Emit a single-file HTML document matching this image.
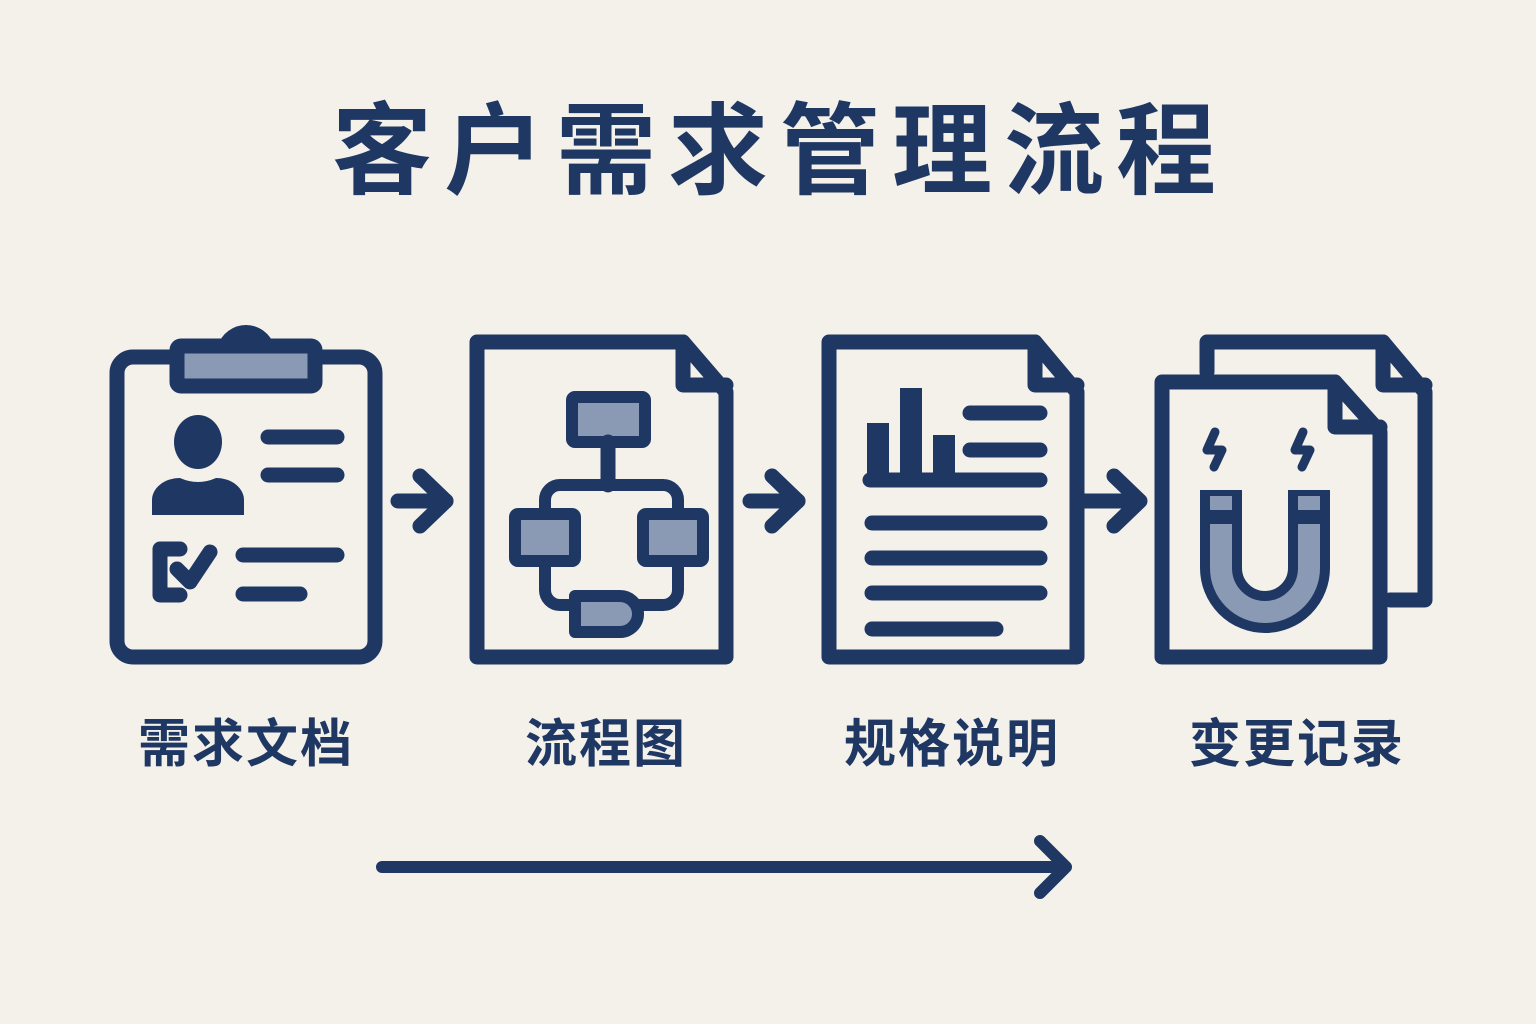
<!DOCTYPE html>
<html><head><meta charset="utf-8"><style>
body{margin:0;background:#f4f0ea;}
svg{display:block}
text{font-family:"Liberation Sans","Noto Sans CJK SC",sans-serif;font-weight:bold;fill:#1f3763}
</style></head><body>
<svg width="1536" height="1024" viewBox="0 0 1536 1024">
<rect width="1536" height="1024" fill="#f4f0ea"/>
<text x="780" y="186" font-size="100" text-anchor="middle" letter-spacing="12">客户需求管理流程</text>
<g fill="none" stroke="#1f3763" stroke-width="15" stroke-linecap="round" stroke-linejoin="round">
<!-- clipboard -->
<rect x="117" y="357" width="258" height="300" rx="16"/>
<path d="M225 348 a22 22 0 0 1 42 0 Z" fill="#8a9ab5"/>
<rect x="177" y="346" width="138" height="40" rx="4" fill="#8a9ab5"/>
<line x1="268" y1="437" x2="337" y2="437"/>
<line x1="268" y1="475" x2="337" y2="475"/>
<line x1="243" y1="555" x2="337" y2="555"/>
<line x1="243" y1="594" x2="300" y2="594"/>
<path d="M180 549 H160 V595 H180"/>
<path d="M177 569 L190 582 L210 552"/>
<!-- arrow1 -->
<line x1="398" y1="501" x2="446" y2="501"/>
<path d="M420 476 L446 501 L420 526"/>
<!-- doc2 -->
<path d="M477 342 H683 L726 392 V657 H477 Z"/>
<path d="M683 342 V385 H726"/>
<rect x="572" y="397" width="73" height="45" rx="3" fill="#8a9ab5" stroke-width="12"/>
<line x1="608" y1="442" x2="608" y2="485"/>
<path d="M545 570 V500 a15 15 0 0 1 15-15 H663 a15 15 0 0 1 15 15 V570" stroke-width="12"/>
<path d="M545 560 V590 a15 15 0 0 0 15 15 H580 M678 560 V590 a15 15 0 0 1 -15 15 H640" stroke-width="12"/>
<rect x="515" y="514" width="60" height="47" rx="3" fill="#8a9ab5" stroke-width="12"/>
<rect x="643" y="514" width="60" height="47" rx="3" fill="#8a9ab5" stroke-width="12"/>
<path d="M575 596 H620 a18 18 0 0 1 0 36 H575 Z" fill="#8a9ab5" stroke-width="12"/>
<!-- arrow2 -->
<line x1="750" y1="501" x2="798" y2="501"/>
<path d="M772 476 L798 501 L772 526"/>
<!-- doc3 -->
<path d="M829 342 H1035 L1077 392 V657 H829 Z"/>
<path d="M1035 342 V385 H1077"/>
<g fill="#1f3763" stroke="none">
<rect x="867" y="423" width="22" height="57"/>
<rect x="900" y="388" width="22" height="92"/>
<rect x="933" y="435" width="22" height="45"/>
</g>
<line x1="970" y1="413" x2="1040" y2="413"/>
<line x1="970" y1="450" x2="1040" y2="450"/>
<line x1="870" y1="480" x2="1040" y2="480"/>
<line x1="872" y1="523" x2="1040" y2="523"/>
<line x1="872" y1="558" x2="1040" y2="558"/>
<line x1="872" y1="593" x2="1040" y2="593"/>
<line x1="872" y1="629" x2="996" y2="629"/>
<!-- arrow3 -->
<line x1="1084" y1="501" x2="1138" y2="501"/>
<path d="M1114 476 L1140 501 L1114 526"/>
<!-- doc4 back -->
<path d="M1207 372 V342 H1383 L1425 392 V600 H1390"/>
<path d="M1383 342 V385 H1425"/>
<!-- front -->
<path d="M1162 382 H1335 L1380 432 V657 H1162 Z" fill="#f4f0ea"/>
<path d="M1335 382 V427 H1380"/>
<path d="M1215 432 L1207 450 L1222 450 L1214 467" stroke-width="9"/>
<path d="M1303 432 L1295 450 L1310 450 L1302 467" stroke-width="9"/>
</g>
<!-- person -->
<g fill="#1f3763">
<ellipse cx="198" cy="442" rx="24" ry="27"/>
<path d="M152 515 V500 a28 22 0 0 1 28 -22 Q198 486 216 478 a28 22 0 0 1 28 22 V515 Z"/>
</g>
<!-- magnet -->
<path d="M1221 490 V568 a44 44 0 0 0 88 0 V490" fill="none" stroke="#1f3763" stroke-width="42"/>
<path d="M1221 524 V568 a44 44 0 0 0 88 0 V524" fill="none" stroke="#8a9ab5" stroke-width="22"/>
<rect x="1210" y="496" width="22" height="14" fill="#8a9ab5"/>
<rect x="1298" y="496" width="22" height="14" fill="#8a9ab5"/>
<!-- labels -->
<text x="246" y="762" font-size="52" text-anchor="middle" letter-spacing="2">需求文档</text>
<text x="606" y="762" font-size="52" text-anchor="middle" letter-spacing="2">流程图</text>
<text x="952" y="762" font-size="52" text-anchor="middle" letter-spacing="2">规格说明</text>
<text x="1297" y="762" font-size="52" text-anchor="middle" letter-spacing="2">变更记录</text>
<!-- bottom arrow -->
<g fill="none" stroke="#1f3763" stroke-width="12" stroke-linecap="round" stroke-linejoin="round">
<line x1="382" y1="867" x2="1064" y2="867"/>
<path d="M1040 841 L1066 867 L1040 893"/>
</g>
</svg>
</body></html>
